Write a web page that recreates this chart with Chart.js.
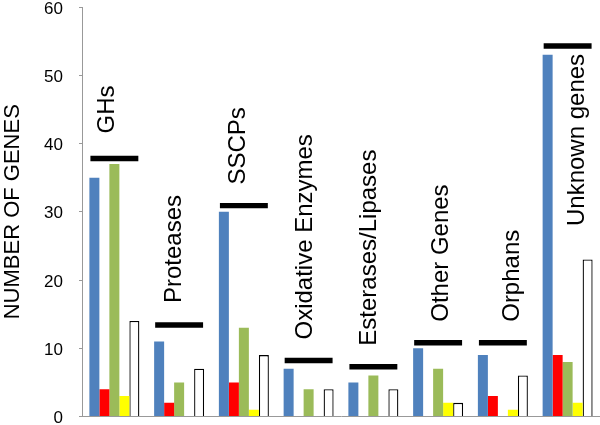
<!DOCTYPE html>
<html lang="en">
<head>
  <meta charset="UTF-8" />
  <title>Number of genes</title>
  <script src="https://cdn.jsdelivr.net/npm/chart.js"></script>
  <style>
    html, body { margin: 0; padding: 0; background: #fff; overflow: hidden; }
    #wrap { width: 600px; height: 425px; }
  </style>
</head>
<body>
  <div id="wrap"><canvas id="genesChart"></canvas></div>

  <script>
    const categories = ["GHs", "Proteases", "SSCPs", "Oxidative Enzymes", "Esterases/Lipases", "Other Genes", "Orphans", "Unknown genes"];
    const blueValues = [35, 11, 30, 7, 5, 10, 9, 53];
    const redValues = [4, 2, 5, 0, 0, 0, 3, 9];
    const greenValues = [37, 5, 13, 4, 6, 7, 0, 8];
    const yellowValues = [3, 0, 1, 0, 0, 2, 1, 2];
    const whiteValues = [14, 7, 9, 4, 4, 2, 6, 23];
    // level of the thick black bar above each group
    const markerLevels = [37.8, 13.4, 30.9, 8.2, 7.3, 10.8, 10.8, 54.3];
    const yTicks = [0, 10, 20, 30, 40, 50, 60];

    const FONT = '"Liberation Sans", Arial, sans-serif';

    // rotated group names next to the black bars
    const groupLabels = {
      id: "groupLabels",
      afterDatasetsDraw(chart, args, opts) {
        const ctx = chart.ctx;
        const x = chart.scales.x;
        const y = chart.scales.y;
        ctx.save();
        ctx.font = "24px " + FONT;
        ctx.fillStyle = "#000";
        ctx.textBaseline = "middle";
        categories.forEach((name, i) => {
          ctx.save();
          ctx.translate(x.getPixelForValue(i) + opts.shift[i], y.getPixelForValue(markerLevels[i]));
          ctx.rotate(-Math.PI / 2);
          if (opts.below.includes(i)) {
            ctx.textAlign = "right";
            ctx.fillText(name, -opts.gapBelow, 0);
          } else {
            ctx.textAlign = "left";
            ctx.fillText(name, opts.gap[i], 0);
          }
          ctx.restore();
        });
        ctx.restore();
      }
    };

    const barOpts = { barPercentage: 1, categoryPercentage: 0.772, borderWidth: 0 };

    new Chart(document.getElementById("genesChart"), {
      type: "bar",
      data: {
        labels: categories,
        datasets: [
          { label: "blue", data: blueValues, backgroundColor: "#4F81BD", ...barOpts },
          { label: "red", data: redValues, backgroundColor: "#FF0000", ...barOpts },
          { label: "green", data: greenValues, backgroundColor: "#9BBB59", ...barOpts },
          { label: "yellow", data: yellowValues, backgroundColor: "#FFFF00", ...barOpts },
          { label: "white", data: whiteValues, backgroundColor: "#FFFFFF", ...barOpts,
            borderColor: "#000", borderWidth: 1.3 },
          { label: "marker", grouped: false,
            data: markerLevels.map(v => [v - 0.4, v + 0.4]),
            backgroundColor: "#000", barPercentage: 1, categoryPercentage: 0.74, borderWidth: 0 }
        ]
      },
      options: {
        responsive: true,
        maintainAspectRatio: false,
        animation: false,
        layout: { padding: { top: 7, right: 0, bottom: 0, left: 0 } },
        plugins: {
          legend: { display: false },
          tooltip: { enabled: false },
          groupLabels: {
            shift: [-7, -5, -6, -3, -4, 3, 9, 10],
            below: [7],
            gap: [25, 22, 21, 21, 21, 21, 21, 21],
            gapBelow: 8
          }
        },
        scales: {
          x: {
            grid: { display: false },
            ticks: { display: false },
            border: { display: true, color: "#999", width: 1 },
            afterFit: s => { s.height = 8.5; s.paddingLeft = 0; s.paddingRight = 0; }
          },
          y: {
            min: 0,
            max: 60,
            afterBuildTicks: s => { s.ticks = yTicks.map(v => ({ value: v })); },
            afterFit: s => { s.width = 82; s.paddingTop = 0; s.paddingBottom = 0; },
            grid: { drawOnChartArea: false, drawTicks: true, tickLength: 3, color: "#999" },
            border: { color: "#999", width: 1 },
            ticks: {
              color: "#000",
              padding: 16,
              labelOffset: 2,
              font: { family: FONT, size: 17 }
            },
            title: {
              display: true,
              text: "NUMBER OF GENES",
              color: "#000",
              padding: 0,
              font: { family: FONT, size: 22 }
            }
          }
        }
      },
      plugins: [groupLabels]
    });
  </script>
</body>
</html>
